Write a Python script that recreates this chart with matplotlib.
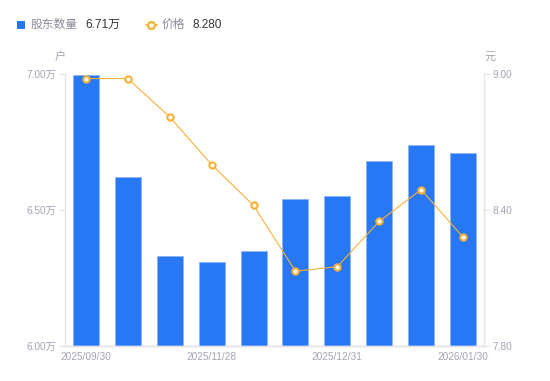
import matplotlib
matplotlib.use("Agg")
import matplotlib.pyplot as plt
from matplotlib.patches import Rectangle
from matplotlib.lines import Line2D

plt.rcParams['font.family'] = ['Liberation Sans', 'Noto Sans CJK SC', 'DejaVu Sans']

dates = ["2025/09/30", "2025/10/31", "2025/11/14", "2025/11/28", "2025/12/10",
         "2025/12/20", "2025/12/31", "2026/01/10", "2026/01/20", "2026/01/30"]
holders = [6.997, 6.62, 6.33, 6.31, 6.35, 6.54, 6.55, 6.68, 6.74, 6.71]  # 万户
prices = [8.98, 8.98, 8.81, 8.60, 8.42, 8.13, 8.15, 8.35, 8.49, 8.28]
shown_ticks = [0, 3, 6, 9]
left_ticks = [6.00, 6.50, 7.00]
right_ticks = [7.80, 8.40, 9.00]

BLUE = "#2878F5"
ORANGE = "#F8B036"
GREY = "#A3A3B5"
AXC = "#E3E3E8"
CJK = ['Noto Sans CJK SC', 'DejaVu Sans']

fig = plt.figure(figsize=(5.5, 3.81), dpi=100)
ax = fig.add_axes([65/550, 1-346/381, (484-65)/550, (346-74)/381])
x = list(range(len(dates)))
ax.bar(x, [h - 6.0 for h in holders], bottom=6.0, width=0.62, color=BLUE,
       edgecolor="#8DB6F8", linewidth=0.6, zorder=2)
ax.set_xlim(-0.5, len(dates) - 0.5)
ax.set_ylim(6.0, 7.0)
ax.set_yticks(left_ticks)
ax.set_yticklabels([f"{v:.2f}万" for v in left_ticks])
ax.set_xticks(shown_ticks)
ax.set_xticklabels([dates[i] for i in shown_ticks])

ax2 = ax.twinx()
ax2.plot(x, prices, color=ORANGE, linewidth=0.8, marker='o', markersize=4.5,
         markerfacecolor='white', markeredgecolor=ORANGE, markeredgewidth=1.5, zorder=3)
ax2.set_ylim(7.8, 9.0)
ax2.set_yticks(right_ticks)
ax2.set_yticklabels([f"{v:.2f}" for v in right_ticks])

for a in (ax, ax2):
    for s in a.spines.values():
        s.set_color(AXC)
        s.set_linewidth(1.0)
    a.spines['top'].set_visible(False)
    a.tick_params(axis='both', colors=AXC, labelcolor=GREY, labelsize=7.3, length=4, width=0.8, pad=2)
ax.tick_params(axis='x', length=0, pad=4)
ax2.spines['left'].set_visible(False)
ax.spines['right'].set_visible(False)

fig.text(60/550, 1-57/381, "户", color=GREY, fontsize=8, ha='center', va='center', family=CJK)
fig.text(490/550, 1-57/381, "元", color=GREY, fontsize=8, ha='center', va='center', family=CJK)

# legend
fig.patches.append(Rectangle((17/550, 1-29/381), 8/550, 8/381, transform=fig.transFigure,
                             facecolor=BLUE, edgecolor='none'))
ly = 1-24.5/381
fig.text(31/550, ly, "股东数量", color="#8A8A9A", fontsize=8.5, va='center', family=CJK)
fig.text(85/550, ly, "6.71万", color="#333333", fontsize=8.5, va='center')
fig.lines.append(Line2D([145.5/550, 156.5/550], [ly, ly], transform=fig.transFigure, color=ORANGE,
                        linewidth=1.2))
fig.lines.append(Line2D([151/550], [ly], transform=fig.transFigure, color=ORANGE, marker='o',
                        markersize=5, markerfacecolor='white', markeredgewidth=1.6))
fig.text(162/550, ly, "价格", color="#8A8A9A", fontsize=8.5, va='center', family=CJK)
fig.text(192/550, ly, "8.280", color="#333333", fontsize=8.5, va='center')

fig.savefig("out.png", dpi=100)
